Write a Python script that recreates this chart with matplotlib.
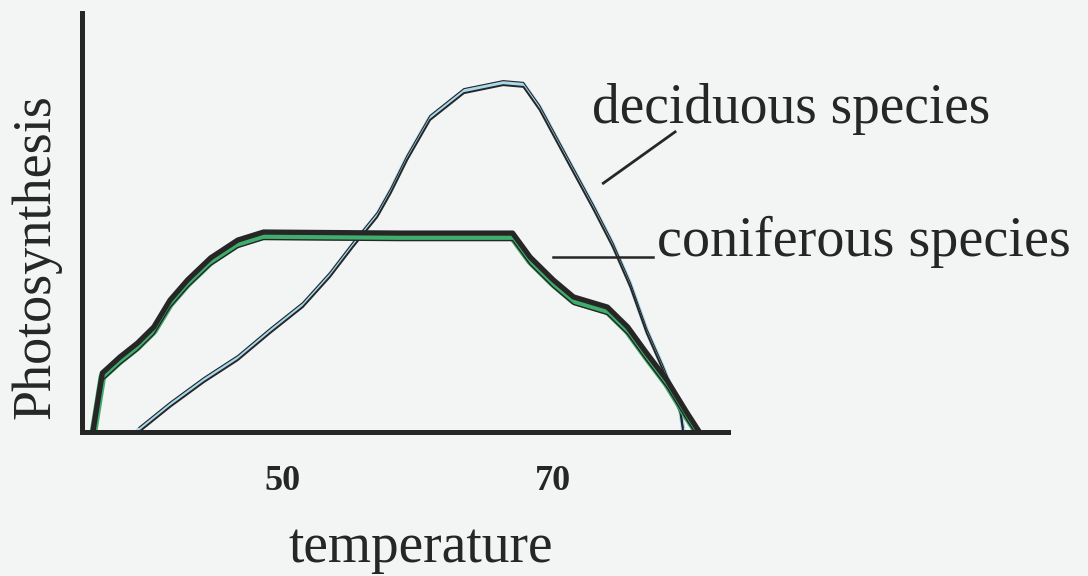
import matplotlib.pyplot as plt
from matplotlib.transforms import offset_copy

# temperature vs photosynthesis (arbitrary units)
conif_t = [36.0, 36.7, 38.0, 39.3, 40.5, 41.7, 43.0, 44.7, 46.7, 48.6, 58.7, 67.0,
           68.3, 70.0, 71.5, 74.0, 75.5, 76.9, 78.4, 79.9, 80.8]
conif_p = [0, 16.9, 21.5, 25.5, 30.1, 37.8, 43.6, 49.9, 55.0, 57.3, 57.0, 57.0,
           50.1, 43.6, 38.7, 35.8, 30.1, 22.6, 14.9, 5.4, 0]

decid_t = [39.4, 41.7, 44.2, 46.7, 49.1, 51.5, 53.5, 55.2, 57.0, 58.0, 59.2, 60.9,
           63.4, 66.3, 67.8, 69.0, 71.0, 73.0, 74.4, 75.7, 76.9, 78.1, 79.4, 79.6]
decid_p = [0, 7.2, 14.3, 20.6, 28.4, 35.8, 44.4, 53.0, 61.6, 68.5, 77.9, 89.4,
           97.1, 99.4, 98.9, 92.3, 77.9, 63.6, 53.0, 41.5, 28.4, 17.8, 5.4, 0]

xticks = [50, 70]

paper = "#f3f4f4"
ink = "#262626"
green = "#3fae6c"
blue = "#a9d9ef"

plt.rcParams["font.family"] = ["Liberation Serif", "DejaVu Serif"]

fig = plt.figure(figsize=(10.88, 5.76), dpi=100, facecolor=paper)
ax = fig.add_axes([0.0754, 0.25, 0.5936, 0.727])
ax.set_facecolor(paper)


def shifted(dy):
    return offset_copy(ax.transData, fig=fig, x=0, y=dy, units="dots")


# deciduous: blue band between a smooth lower line and a thin upper outline
ax.plot(decid_t, decid_p, color=blue, linewidth=3.2, transform=shifted(2.5),
        solid_joinstyle="round")
ax.plot(decid_t, decid_p, color=ink, linewidth=0.8, transform=shifted(4.5),
        solid_joinstyle="round")
ax.plot(decid_t, decid_p, color=ink, linewidth=1.4, solid_joinstyle="round")

# coniferous: thick black upper edge, green band, thin black lower edge
ax.plot(conif_t, conif_p, color=green, linewidth=5.5, transform=shifted(-4),
        solid_joinstyle="round")
ax.plot(conif_t, conif_p, color=ink, linewidth=1.0, transform=shifted(-7.5),
        solid_joinstyle="round")
ax.plot(conif_t, conif_p, color=ink, linewidth=3.8, solid_capstyle="butt",
        solid_joinstyle="round")

ax.set_xlim(35.2, 82.9)
ax.set_ylim(0, 120)

for s in ["top", "right"]:
    ax.spines[s].set_visible(False)
for s in ["left", "bottom"]:
    ax.spines[s].set_linewidth(3.6)
    ax.spines[s].set_color(ink)

ax.set_xticks(xticks)
ax.set_xticklabels([str(v) for v in xticks], fontsize=26, fontweight="bold", color=ink)
ax.tick_params(axis="x", length=0, pad=24)
ax.set_yticks([])

# axis titles
ax.text(0.525, -0.31, "temperature", transform=ax.transAxes, fontsize=40,
        color=ink, ha="center", va="baseline")
ax.text(-0.071, 0.418, "Photosynthesis", transform=ax.transAxes, fontsize=39,
        color=ink, ha="center", va="center", rotation=90)

# labels with leader lines
ax.plot([73.7, 79.0], [71.3, 86.0], color=ink, linewidth=2, clip_on=False)
ax.text(72.9, 92.5, "deciduous species", fontsize=40, color=ink,
        ha="left", va="center", clip_on=False)
ax.plot([70.0, 77.4], [50.1, 50.1], color=ink, linewidth=1.8, clip_on=False)
ax.text(77.7, 54.5, "coniferous species", fontsize=40.5, color=ink,
        ha="left", va="center", clip_on=False)

fig.savefig("out.png", dpi=100, facecolor=paper)
